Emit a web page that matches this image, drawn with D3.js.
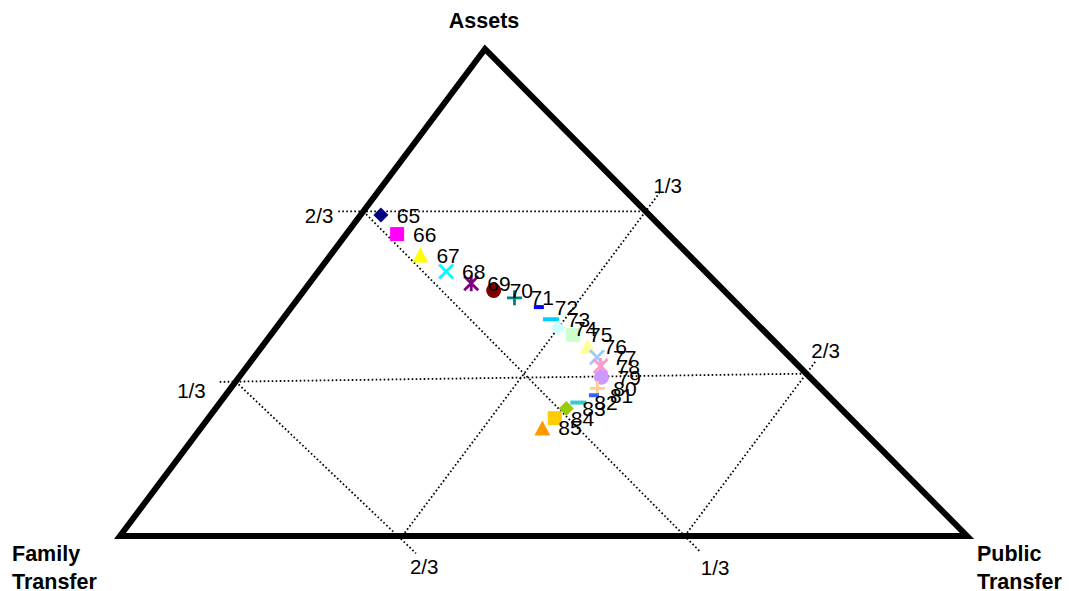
<!DOCTYPE html>
<html><head><meta charset="utf-8">
<script src="https://cdn.jsdelivr.net/npm/d3@7"></script>
<style>html,body{margin:0;padding:0;background:#fff;} svg{display:block;}</style>
</head><body><svg id="c" width="1069" height="591"></svg>
<script>
// ---- data ----
const years = ["65","66","67","68","69","70","71","72","73","74","75","76","77","78","79","80","81","82","83","84","85"];
const assets = [0.659,0.620,0.577,0.543,0.519,0.504,0.489,0.470,0.445,0.427,0.413,0.390,0.367,0.349,0.326,0.303,0.289,0.274,0.262,0.242,0.222];
const familyTransfer = [0.317,0.320,0.317,0.306,0.290,0.272,0.256,0.238,0.238,0.240,0.230,0.226,0.228,0.234,0.246,0.264,0.276,0.303,0.324,0.349,0.375];
const publicTransfer = [0.024,0.060,0.106,0.151,0.191,0.224,0.255,0.292,0.317,0.333,0.357,0.384,0.405,0.417,0.428,0.433,0.435,0.423,0.414,0.409,0.403];
const axisTitles = [["Assets"],["Family","Transfer"],["Public","Transfer"]];
const tickLabels = ["1/3","2/3"];
// grid lines: ternary endpoints [assets, family, public]
const gridFrom = [[2/3,1/3,0],[0.317,0.683,0],[0,2/3,1/3],[0,1/3,2/3],[0.317,0.683,0],[2/3,1/3,0]];
const gridTo   = [[2/3,0,1/3],[1/3,0,2/3],[2/3,0,1/3],[1/3,0,2/3],[0,0.672,0.328],[0,1/3,2/3]];
const gridTick = ["2/3","1/3","1/3","2/3","2/3","1/3"];

// ---- style / layout ----
const markerTypes = ["diamond","square","triangle","x","star","circle","plus","dash","longdash"];
const colors = ["#000080","#FF00FF","#FFFF00","#00FFFF","#800080","#800000","#008080","#0000FF","#00CCFF","#CCFFFF","#CCFFCC","#FFFF99","#99CCFF","#FF99CC","#CC99FF","#FFCC99","#3366FF","#33CCCC","#99CC00","#FFCC00","#FF9900"];
const gridStyle = [ // extension end ('from'/'to'), extension px, label dx, dy, anchor
  {end:"from",ext:25,dx:-5,dy:12,anchor:"end"},
  {end:"from",ext:16,dx:-14,dy:16,anchor:"end"},
  {end:"to",ext:23,dx:-6,dy:0,anchor:"start"},
  {end:"to",ext:15,dx:-4,dy:-4,anchor:"start"},
  {end:"to",ext:25,dx:-6,dy:21,anchor:"start"},
  {end:"to",ext:23,dx:0,dy:23,anchor:"start"}
];
const FONT = "'Liberation Sans', Arial, sans-serif";
const leftX = 120, rightX = 967, apexX = 485, baseY = 536, apexY = 49;
const skew = (apexX - leftX) / (rightX - leftX);

const x = d3.scaleLinear().domain([0,1]).range([leftX, rightX]);
const y = d3.scaleLinear().domain([0,1]).range([baseY, apexY]);
function proj(t){ const s=t[0]+t[1]+t[2]; const a=t[0]/s, p=t[2]/s; return [x(p + a*skew), y(a)]; }

const svg = d3.select("#c");
svg.append("rect").attr("width",1069).attr("height",591).attr("fill","#fff");

// grid lines
const gridG = svg.append("g");
gridFrom.forEach((f,i)=>{
  const P0 = proj(f), P1 = proj(gridTo[i]);
  const st = gridStyle[i];
  const dxv = P1[0]-P0[0], dyv = P1[1]-P0[1], L = Math.hypot(dxv,dyv);
  const ux = dxv/L, uy = dyv/L;
  let a = P0.slice(), b = P1.slice(), endPt;
  if (st.end==="from"){ a=[P0[0]-ux*st.ext, P0[1]-uy*st.ext]; endPt=a; }
  else { b=[P1[0]+ux*st.ext, P1[1]+uy*st.ext]; endPt=b; }
  gridG.append("line").attr("x1",a[0]).attr("y1",a[1]).attr("x2",b[0]).attr("y2",b[1])
    .attr("stroke","#000").attr("stroke-width",1.8).attr("stroke-dasharray","1.6 2.4");
  gridG.append("text").attr("x",endPt[0]+st.dx).attr("y",endPt[1]+st.dy)
    .attr("text-anchor",st.anchor).attr("font-family",FONT).attr("font-size",20.5).text(gridTick[i]);
});

// triangle
const verts = [[1,0,0],[0,1,0],[0,0,1]].map(proj);
svg.append("path").attr("d", d3.line()(verts)+"Z")
  .attr("fill","none").attr("stroke","#000").attr("stroke-width",6).attr("stroke-linejoin","miter");

// axis titles
const titlePos = [{x:484,y:28,anchor:"middle"},{x:12,y:561,anchor:"start"},{x:977,y:561,anchor:"start"}];
axisTitles.forEach((lines,i)=>{
  const t = svg.append("text").attr("font-family",FONT).attr("font-weight","bold").attr("font-size",21.5)
    .attr("text-anchor",titlePos[i].anchor);
  lines.forEach((l,j)=>t.append("tspan").attr("x",titlePos[i].x).attr("y",titlePos[i].y+j*28).text(l));
});

// markers
function markerPath(type){
  const s=7.5;
  switch(type){
    case "diamond": return `M0,${-s}L${s},0L0,${s}L${-s},0Z`;
    case "square": return `M-7,-7H7V7H-7Z`;
    case "triangle": return `M0,-7.5L8,7.5L-8,7.5Z`;
    case "x": return `M-7,-7L7,7M7,-7L-7,7`;
    case "star": return `M-7,-7L7,7M7,-7L-7,7M0,-8V8`;
    case "circle": return `M7.5,0A7.5,7.5 0 1 1 -7.5,0A7.5,7.5 0 1 1 7.5,0Z`;
    case "plus": return `M-7.5,0H7.5M0,-7.5V7.5`;
    case "dash": return `M-5,-2H5V2H-5Z`;
    case "longdash": return `M-8,-2H8V2H-8Z`;
  }
}
const stroked = new Set(["x","star","plus"]);
const pts = years.map((yr,i)=>({yr, pos: proj([assets[i],familyTransfer[i],publicTransfer[i]]), type: markerTypes[i%markerTypes.length], color: colors[i]}));
const mg = svg.append("g");
pts.forEach(d=>{
  const p = mg.append("path").attr("d",markerPath(d.type)).attr("transform",`translate(${d.pos[0]},${d.pos[1]})`);
  if (stroked.has(d.type)) p.attr("fill","none").attr("stroke",d.color).attr("stroke-width",2.8);
  else p.attr("fill",d.color);
});
const lg = svg.append("g");
pts.forEach(d=>{
  lg.append("text").attr("x",d.pos[0]+16).attr("y",d.pos[1]+7.5).attr("font-family",FONT).attr("font-size",21).text(d.yr);
});
</script></body></html>
